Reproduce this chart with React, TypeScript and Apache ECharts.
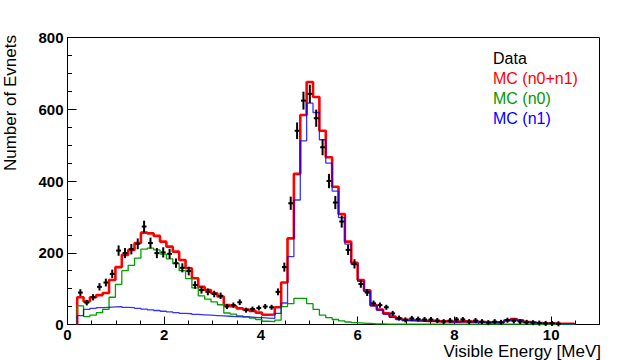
import React, { useEffect, useRef } from 'react';
import * as echarts from 'echarts';

// Histogram binning (energy axis, MeV)
const binStart = 0.2;
const binWidth = 0.1318;

// MC (n0+n1) – red
const mcTotal = [
  76, 64, 76, 82, 88, 124, 160, 194, 208, 227, 256, 254, 247, 231, 217, 203, 180, 157, 129, 105, 96, 87, 78, 54, 51, 45, 42, 38, 33, 27, 28,
  48, 117, 240, 420, 584, 676, 634, 540, 466, 384, 308, 231, 172, 124, 95, 54, 42, 31, 22, 16, 13,
  12, 11, 10, 10, 9, 9, 8, 8, 9, 8, 7, 7, 6, 6, 7, 12, 15, 12, 7, 6, 4, 3, 3, 2, 2, 2,
];

// MC (n0) – green
const mcN0 = [
  52, 22, 26, 33, 42, 76, 112, 150, 165, 185, 210, 213, 208, 196, 183, 170, 150, 128, 102, 80, 71, 63, 55, 32, 29, 24, 21, 18, 14, 9, 8,
  12, 50, 58, 73, 73, 58, 42, 26, 19, 14, 10, 7, 5, 4, 3, 2, 2, 1, 1, 1, 1,
  1, 1, 1, 1, 1, 1, 1, 1, 1, 1, 1, 1, 1, 1, 1, 1, 1, 1, 1, 1, 0, 0, 0, 0, 0, 0,
];

// MC (n1) – blue
const mcN1 = [
  25, 42, 45, 47, 48, 49, 50, 48, 47, 45, 43, 41, 39, 37, 35, 33, 31, 30, 28, 27, 26, 25, 24, 23, 22, 21, 21, 20, 19, 18, 17,
  31, 60, 189, 347, 512, 617, 591, 515, 450, 372, 298, 224, 167, 120, 92, 52, 40, 29, 20, 14, 11,
  11, 10, 9, 9, 8, 8, 7, 7, 8, 7, 6, 6, 5, 5, 6, 11, 14, 11, 6, 5, 4, 3, 3, 2, 2, 2,
];

// Data counts per bin and their error bars
const dataCounts = [
  89, 61, 76, 105, 117, 141, 206, 199, 210, 225, 273, 227, 199, 201, 197,
  171, 158, 149, 110, 96, 91, 85, 80, 50, 54, 62, 40, 43, 46, 50, 48,
  91, 160, 338, 540, 624, 643, 575, 494, 400, 340, 287, 208, 169, 113, 89, 59, 54, 48, 31, 18, 13,
  17, 15, 14, 14, 11, 8, 11, 14, 14, 8, 11, 8, 5, 8, 6, 12, 10, 8, 6, 5, 4, 3, 3, 2,
];
const dataErrors = [
  9.4, 7.8, 8.7, 10.2, 10.8, 11.9, 14.4, 14.1, 14.5, 15, 16.5, 15.1, 14.1, 14.2, 14,
  13.1, 12.6, 12.2, 10.5, 9.8, 9.5, 9.2, 8.9, 7.1, 7.3, 7.9, 6.3, 6.6, 6.8, 7.1, 6.9,
  9.5, 12.6, 18.4, 23.2, 25, 25.4, 24, 22.2, 20, 18.4, 16.9, 14.4, 13, 10.6, 9.4, 7.7, 7.3, 6.9, 5.6, 4.2, 3.6,
  4.1, 3.9, 3.7, 3.7, 3.3, 2.8, 3.3, 3.7, 3.7, 2.8, 3.3, 2.8, 2.2, 2.8, 2.4, 3.5, 3.2, 2.8, 2.4, 2.2, 2, 1.7, 1.7, 1.4,
];

const legendLabels = ['Data', 'MC (n0+n1)', 'MC (n0)', 'MC (n1)'];
const legendColors = ['#000000', '#ff0000', '#009a00', '#0000ff'];
const xTitle = 'Visible Energy [MeV]';
const yTitle = 'Number of Evnets';

const FONT = '"Liberation Sans", Arial, Helvetica, sans-serif';

function histPoints(values: number[]) {
  const pts: number[][] = [[binStart, 0]];
  values.forEach((v, j) => pts.push([binStart + j * binWidth, v]));
  const end = binStart + values.length * binWidth;
  pts.push([end, values[values.length - 1]]);
  pts.push([end, 0]);
  return pts;
}

export default function App() {
  const ref = useRef<HTMLDivElement>(null);
  useEffect(() => {
    if (!ref.current) return;
    const chart = echarts.init(ref.current, null, { renderer: 'svg' });
    const labelStyle = {
      color: '#000',
      fontSize: 15,
      fontWeight: 'bold' as const,
      fontFamily: FONT,
    };
    const option: any = {
      animation: false,
      grid: {
        left: 67.5,
        right: 40.5,
        top: 37.5,
        bottom: 35.5,
        show: true,
        borderColor: '#000',
        borderWidth: 1,
        containLabel: false,
        outerBoundsMode: 'none',
      },
      xAxis: [
        {
          type: 'value',
          min: 0,
          max: 11,
          interval: 2,
          position: 'bottom',
          axisLine: { onZero: false, lineStyle: { color: '#000', width: 1 } },
          axisTick: { inside: true, length: 8, lineStyle: { color: '#000' } },
          axisLabel: { ...labelStyle, showMaxLabel: false, margin: 2 },
          splitLine: { show: false },
        },
        {
          type: 'value',
          min: 0,
          max: 11,
          interval: 0.5,
          position: 'bottom',
          axisLine: { show: false, onZero: false },
          axisTick: { inside: true, length: 4, lineStyle: { color: '#000' } },
          axisLabel: { show: false },
          splitLine: { show: false },
        },
      ],
      yAxis: {
        type: 'value',
        min: 0,
        max: 800,
        interval: 200,
        axisLine: { show: true, onZero: false, lineStyle: { color: '#000', width: 1 } },
        axisTick: { show: true, inside: true, length: 9, lineStyle: { color: '#000' } },
        minorTick: { show: true, splitNumber: 4, length: 4.5, lineStyle: { color: '#000' } },
        axisLabel: { ...labelStyle, margin: 4 },
        splitLine: { show: false },
        minorSplitLine: { show: false },
      },
      series: [
        {
          type: 'line',
          name: legendLabels[1],
          data: histPoints(mcTotal),
          step: 'end',
          symbol: 'none',
          showSymbol: false,
          lineStyle: { color: legendColors[1], width: 2.6 },
          z: 2,
        },
        {
          type: 'line',
          name: legendLabels[2],
          data: histPoints(mcN0),
          step: 'end',
          symbol: 'none',
          showSymbol: false,
          lineStyle: { color: '#00a000', width: 1.3 },
          z: 3,
        },
        {
          type: 'line',
          name: legendLabels[3],
          data: histPoints(mcN1),
          step: 'end',
          symbol: 'none',
          showSymbol: false,
          lineStyle: { color: legendColors[3], width: 1.3, opacity: 0.8 },
          z: 4,
        },
        {
          type: 'custom',
          name: legendLabels[0],
          data: dataCounts.map((v, j) => [binStart + (j + 0.5) * binWidth, v, dataErrors[j]]),
          encode: { x: 0, y: 1 },
          z: 5,
          renderItem: (params: any, api: any) => {
            const x = api.value(0);
            const y = api.value(1);
            const e = api.value(2);
            const c = api.coord([x, y]);
            const top = api.coord([x, y + e]);
            const bot = api.coord([x, y - e]);
            const half = api.size([binWidth, 0])[0] * 0.38;
            let t = top[1];
            let b = bot[1];
            const minHalf = 2.5;
            if (b - t < 2 * minHalf) {
              t = c[1] - minHalf;
              b = c[1] + minHalf;
            }
            const st = { stroke: '#000', lineWidth: 2 };
            return {
              type: 'group',
              children: [
                { type: 'line', shape: { x1: c[0] - half, y1: c[1], x2: c[0] + half, y2: c[1] }, style: st },
                { type: 'line', shape: { x1: c[0], y1: t, x2: c[0], y2: b }, style: st },
              ],
            };
          },
        },
      ],
      graphic: [
        ...legendLabels.map((label, i) => ({
          type: 'text',
          x: 493,
          y: 58 + i * 20,
          style: {
            text: label,
            fill: legendColors[i],
            font: `16px ${FONT}`,
            textAlign: 'left',
            textVerticalAlign: 'middle',
            align: 'left',
            verticalAlign: 'middle',
          },
          z: 10,
        })),
        {
          type: 'text',
          x: 601,
          y: 351,
          style: {
            text: xTitle,
            fill: '#000',
            font: `17px ${FONT}`,
            textAlign: 'right',
            textVerticalAlign: 'middle',
            align: 'right',
            verticalAlign: 'middle',
          },
        },
        {
          type: 'text',
          x: 10.5,
          y: 35,
          rotation: Math.PI / 2,
          style: {
            text: yTitle,
            fill: '#000',
            font: `17px ${FONT}`,
            textAlign: 'right',
            textVerticalAlign: 'middle',
            align: 'right',
            verticalAlign: 'middle',
          },
        },
      ],
    };
    chart.setOption(option);
    return () => chart.dispose();
  }, []);
  return (
    <div
      ref={ref}
      style={{ position: 'absolute', left: 0, top: 0, width: 640, height: 360, background: '#fff' }}
    />
  );
}
